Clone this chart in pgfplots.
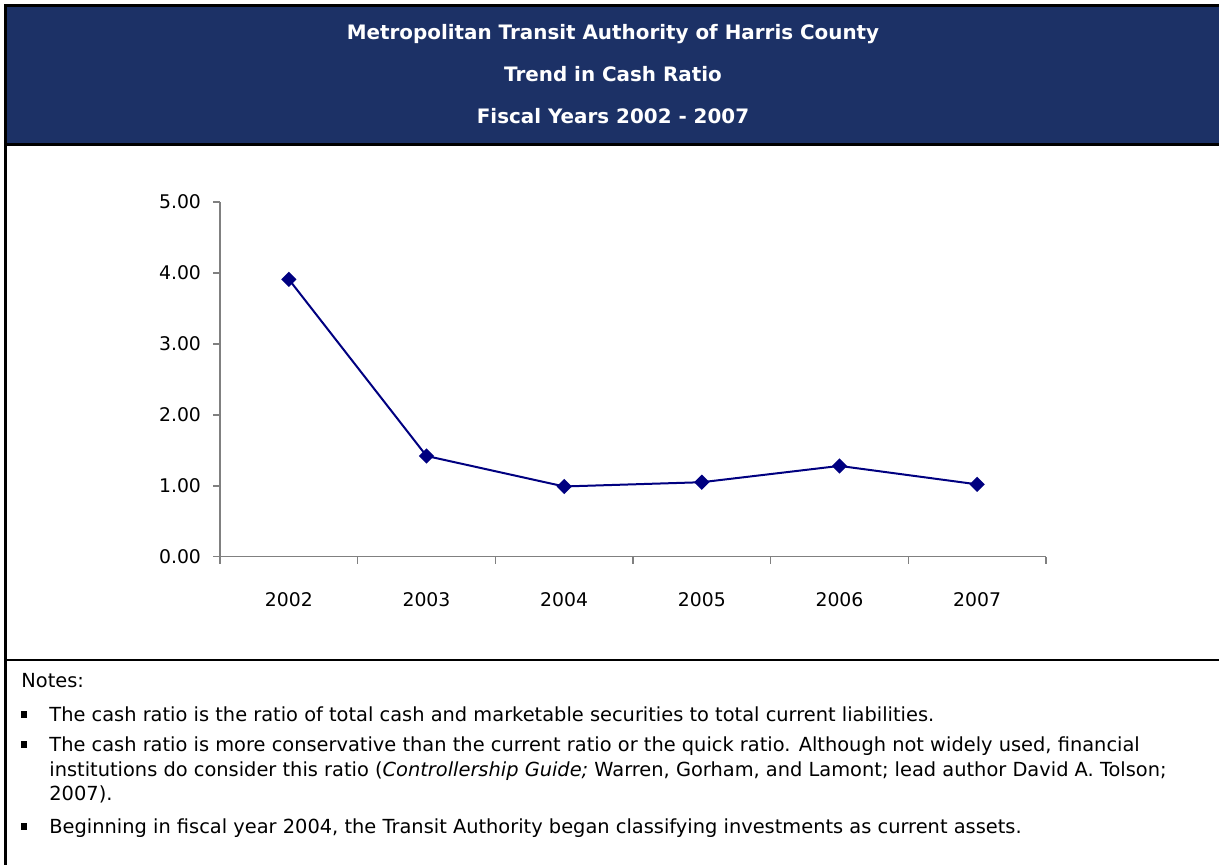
\documentclass[border=0pt]{standalone}
\usepackage{fontspec}
\setmainfont{DejaVu Sans}
\usepackage{pgfplots}
\pgfplotsset{compat=1.18}
\definecolor{hdr}{RGB}{28,49,102}
\definecolor{navy}{RGB}{0,0,128}
\definecolor{axgray}{RGB}{128,128,128}

\begin{document}
\begin{tikzpicture}
\begin{scope}[x=0.5pt,y=-0.5pt]
  \path[use as bounding box] (0,0) rectangle (1219,865);
  \fill[hdr] (5,6) rectangle (1219,145);
  \draw[line width=1.5pt] (5,865) -- (5,6) -- (1219,6);
  \draw[line width=1.5pt] (5,145) -- (1219,145);
  \draw[line width=1.2pt] (5,660) -- (1219,660);
  % title
  \begin{scope}[every node/.style={text=white, font=\fontsize{9.95}{11}\selectfont\bfseries, anchor=center}]
    \node at (613,34) {Metropolitan Transit Authority of Harris County};
    \node at (613,74) {Trend in Cash Ratio};
    \node at (613,116) {Fiscal Years 2002 - 2007};
  \end{scope}
  % notes
  \begin{scope}[every node/.style={font=\fontsize{9.7}{12}\selectfont, anchor=base west, inner sep=0pt}]
    \node at (21,687) {Notes:};
    \node at (49,721.5) {The cash ratio is the ratio of total cash and marketable securities to total current liabilities.};
    \node at (49,751.5) {The cash ratio is more conservative than the current ratio or the quick ratio. Although not widely used, financial};
    \node at (49,776) {institutions do consider this ratio (\textit{Controllership Guide;} Warren, Gorham, and Lamont; lead author David A. Tolson;};
    \node at (49,800.5) {2007).};
    \node at (49,833.5) {Beginning in fiscal year 2004, the Transit Authority began classifying investments as current assets.};
  \end{scope}
  \foreach \yy in {714.5,744.5,826.5}
    \fill (21,\yy-3.5) rectangle (27,\yy+3.5);
\end{scope}

\begin{axis}[
    at={(110pt,-278.35pt)}, anchor=south west,
    scale only axis, width=413pt, height=177.35pt,
    xmin=0.5, xmax=6.5, ymin=0, ymax=5,
    axis x line*=bottom, axis y line*=left,
    axis line style={axgray, line width=0.75pt},
    xtick={0.5,1.5,...,6.5},
    x tick label as interval,
    xticklabels={2002,2003,2004,2005,2006,2007},
    ytick={0,1,2,3,4,5},
    tick align=outside, major tick length=3.5pt,
    tick style={axgray, line width=0.75pt},
    ticklabel style={font=\fontsize{9.4}{11}\selectfont},
    /pgf/number format/assume math mode=true,
    yticklabel style={xshift=-2.5pt, /pgf/number format/.cd, fixed, fixed zerofill, precision=2},
    xticklabel style={yshift=-11pt},
    clip=false,
  ]
\addplot[navy, line width=1pt, mark=square*, mark size=2.2pt,
  mark options={rotate=45, fill=navy, solid}]
  coordinates {(1,3.91) (2,1.42) (3,0.99) (4,1.05) (5,1.28) (6,1.02)};
\end{axis}
\end{tikzpicture}
\end{document}
